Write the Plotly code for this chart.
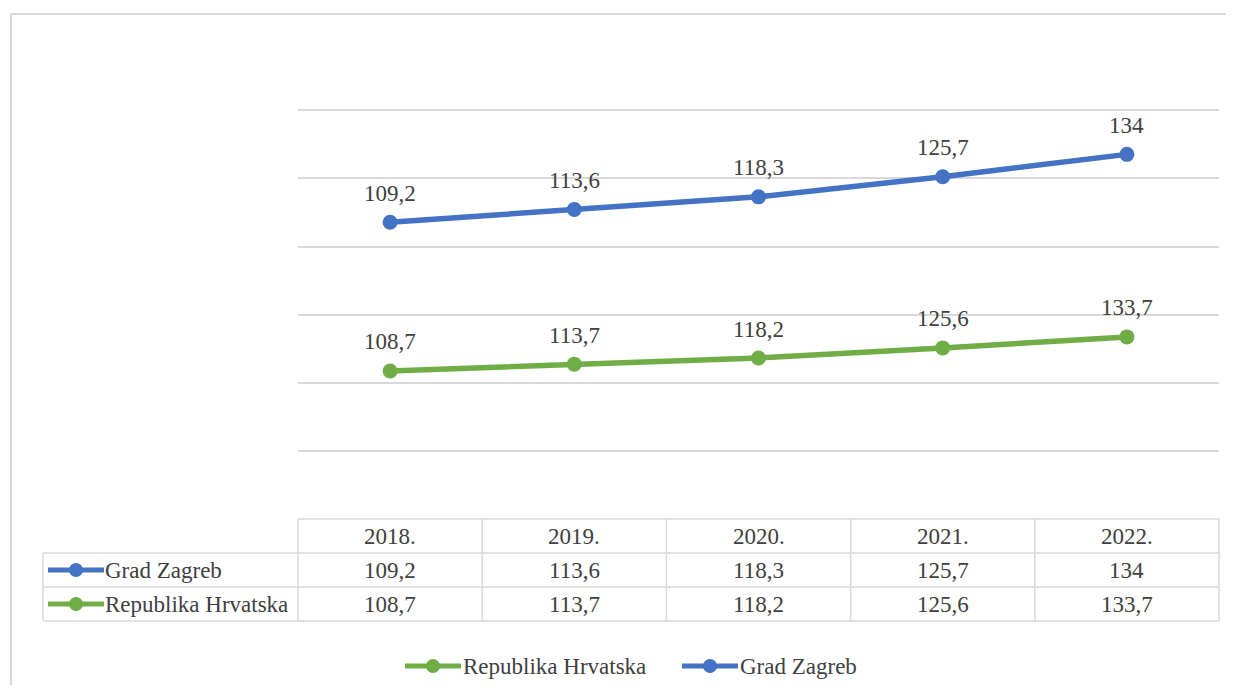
import numpy as np
import plotly.graph_objects as go

years = ["2018.", "2019.", "2020.", "2021.", "2022."]
grad_zagreb = [109.2, 113.6, 118.3, 125.7, 134]
republika_hrvatska = [108.7, 113.7, 118.2, 125.6, 133.7]

BLUE = "#4472C4"
GREEN = "#70AD47"
GRID = "#d9d9d9"
TEXT = "#404040"
FONT = "Liberation Serif, Times New Roman, serif"
FS = 23

# the page body has an 8px margin, so shift everything up/left by it
OFF = 8
W, H = 1234 - 2 * OFF, 693 - 2 * OFF
# plot area in reference pixels
PL, PR, PT, PB = 298, 1219, 109, 519
PW, PH = PR - PL, PB - PT


def px(x):
    return (x - PL) / PW


def py(y):
    return (PB - y) / PH


def fmt(v):
    return f"{v:g}".replace(".", ",")


# stacked line chart: Zagreb sits on top of Hrvatska
green_y = np.array(republika_hrvatska)
blue_y = green_y + np.array(grad_zagreb)
idx = list(range(len(years)))

fig = go.Figure()
fig.add_trace(go.Scatter(
    x=idx, y=green_y, name="Republika Hrvatska", mode="lines+markers",
    line=dict(color=GREEN, width=5.5), marker=dict(size=15, color=GREEN),
))
fig.add_trace(go.Scatter(
    x=idx, y=blue_y, name="Grad Zagreb", mode="lines+markers",
    line=dict(color=BLUE, width=5.5), marker=dict(size=15, color=BLUE),
))

annotations = []
shapes = []
tfont = dict(size=FS, color=TEXT, family=FONT)

# data labels above points
for k, v, s in zip(idx, republika_hrvatska, green_y):
    annotations.append(dict(x=k, y=s, text=fmt(v), showarrow=False, yshift=29,
                            xanchor="center", yanchor="middle", font=tfont))
for k, v, s in zip(idx, grad_zagreb, blue_y):
    annotations.append(dict(x=k, y=s, text=fmt(v), showarrow=False, yshift=29,
                            xanchor="center", yanchor="middle", font=tfont))


def legend_key(x0, x1, yc, col):
    # line-with-marker key, as in the Excel legend
    xm = (x0 + x1) / 2
    shapes.append(dict(type="line", xref="paper", yref="paper", x0=px(x0), x1=px(x1),
                       y0=py(yc), y1=py(yc), line=dict(color=col, width=5)))
    shapes.append(dict(type="circle", xref="paper", yref="paper",
                       x0=px(xm - 7), x1=px(xm + 7), y0=py(yc + 7), y1=py(yc - 7),
                       fillcolor=col, line=dict(color=col, width=0)))


# data table under the plot
n = len(years)
row_top, row_h = 519, 34
tab_left = 43
line = dict(color=GRID, width=1.5)
shapes.append(dict(type="line", xref="paper", yref="paper", x0=0, x1=1,
                   y0=py(row_top), y1=py(row_top), line=line))
for r in range(1, 4):
    yy = py(row_top + r * row_h)
    shapes.append(dict(type="line", xref="paper", yref="paper", x0=px(tab_left), x1=1,
                       y0=yy, y1=yy, line=line))
shapes.append(dict(type="line", xref="paper", yref="paper", x0=px(tab_left), x1=px(tab_left),
                   y0=py(row_top + row_h), y1=py(row_top + 3 * row_h), line=line))
for k in range(n + 1):
    shapes.append(dict(type="line", xref="paper", yref="paper", x0=k / n, x1=k / n,
                       y0=py(row_top), y1=py(row_top + 3 * row_h), line=line))

rows = [("Grad Zagreb", grad_zagreb, BLUE), ("Republika Hrvatska", republika_hrvatska, GREEN)]
for k, yr in enumerate(years):
    annotations.append(dict(x=(k + 0.5) / n, y=py(row_top + row_h / 2), xref="paper", yref="paper",
                            text=yr, showarrow=False, xanchor="center", yanchor="middle",
                            font=tfont))
for r, (name, vals, col) in enumerate(rows):
    yc = row_top + (r + 1.5) * row_h
    for k, v in enumerate(vals):
        annotations.append(dict(x=(k + 0.5) / n, y=py(yc), xref="paper", yref="paper",
                                text=fmt(v), showarrow=False, xanchor="center",
                                yanchor="middle", font=tfont))
    annotations.append(dict(x=px(103), y=py(yc), xref="paper", yref="paper", xanchor="left",
                            yanchor="middle", text=name, showarrow=False, font=tfont))
    legend_key(48, 104, yc, col)

# legend at the bottom (drawn by hand so the keys match Excel's long keys)
legend_items = [("Republika Hrvatska", GREEN, 405), ("Grad Zagreb", BLUE, 682)]
for name, col, x0 in legend_items:
    legend_key(x0, x0 + 56, 666, col)
    annotations.append(dict(x=px(x0 + 56), y=py(666), xref="paper", yref="paper",
                            xanchor="left", yanchor="middle", text=name,
                            showarrow=False, font=tfont))

# outer chart frame
shapes.append(dict(type="rect", xref="paper", yref="paper", x0=px(11), x1=px(1233),
                   y0=py(14), y1=py(720), line=dict(color=GRID, width=2), layer="below"))

fig.update_layout(
    width=W, height=H,
    margin=dict(l=PL - OFF, r=W - (PR - OFF), t=PT - OFF, b=H - (PB - OFF), autoexpand=False),
    paper_bgcolor="white", plot_bgcolor="white",
    font=dict(family=FONT, color=TEXT, size=FS),
    xaxis=dict(type="linear", showticklabels=False, showgrid=False, zeroline=False,
               showline=False, range=[-0.5, n - 0.5], fixedrange=True),
    yaxis=dict(range=[0, 301], dtick=50, showticklabels=False, showgrid=True,
               gridcolor=GRID, gridwidth=1.5, zeroline=False, showline=False),
    showlegend=False,
    annotations=annotations,
    shapes=shapes,
)

fig.write_html("out.html")
